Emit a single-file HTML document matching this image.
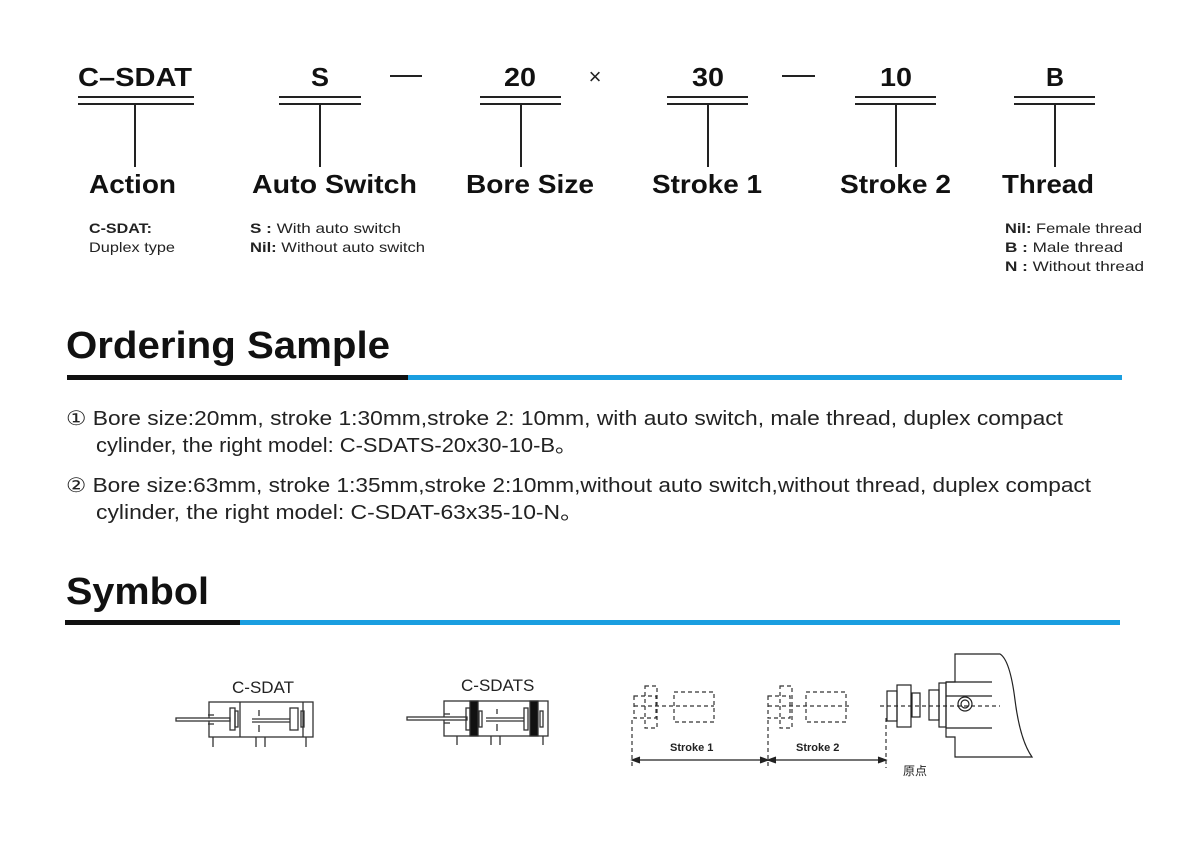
<!DOCTYPE html>
<html><head><meta charset="utf-8"><style>
html,body{margin:0;padding:0;background:#fff;}
svg{display:block;font-family:"Liberation Sans",Arial,sans-serif;}
</style></head><body>
<svg width="1200" height="850" viewBox="0 0 1200 850" xmlns="http://www.w3.org/2000/svg">
<g font-weight="bold" font-size="26" fill="#111" lengthAdjust="spacingAndGlyphs">
<text x="78" y="86" textLength="114" lengthAdjust="spacingAndGlyphs">C–SDAT</text>
<text x="311" y="86" textLength="18" lengthAdjust="spacingAndGlyphs">S</text>
<text x="504" y="86" textLength="32" lengthAdjust="spacingAndGlyphs">20</text>
<text x="692" y="86" textLength="32" lengthAdjust="spacingAndGlyphs">30</text>
<text x="880" y="86" textLength="32" lengthAdjust="spacingAndGlyphs">10</text>
<text x="1046" y="86" textLength="18" lengthAdjust="spacingAndGlyphs">B</text>
<text x="89" y="193" textLength="87" lengthAdjust="spacingAndGlyphs">Action</text>
<text x="252" y="193" textLength="165" lengthAdjust="spacingAndGlyphs">Auto Switch</text>
<text x="466" y="193" textLength="128" lengthAdjust="spacingAndGlyphs">Bore Size</text>
<text x="652" y="193" textLength="110" lengthAdjust="spacingAndGlyphs">Stroke 1</text>
<text x="840" y="193" textLength="111" lengthAdjust="spacingAndGlyphs">Stroke 2</text>
<text x="1002" y="193" textLength="92" lengthAdjust="spacingAndGlyphs">Thread</text>
</g>
<text x="595" y="84" font-size="22" text-anchor="middle" fill="#222">×</text>
<g stroke="#222" stroke-width="2" fill="none">
<line x1="390" y1="76" x2="422" y2="76"/><line x1="782" y1="76" x2="815" y2="76"/>
<line x1="78" y1="97" x2="194" y2="97"/><line x1="78" y1="104" x2="194" y2="104"/><line x1="135" y1="104" x2="135" y2="167"/>
<line x1="279" y1="97" x2="361" y2="97"/><line x1="279" y1="104" x2="361" y2="104"/><line x1="320" y1="104" x2="320" y2="167"/>
<line x1="480" y1="97" x2="561" y2="97"/><line x1="480" y1="104" x2="561" y2="104"/><line x1="521" y1="104" x2="521" y2="167"/>
<line x1="667" y1="97" x2="748" y2="97"/><line x1="667" y1="104" x2="748" y2="104"/><line x1="708" y1="104" x2="708" y2="167"/>
<line x1="855" y1="97" x2="936" y2="97"/><line x1="855" y1="104" x2="936" y2="104"/><line x1="896" y1="104" x2="896" y2="167"/>
<line x1="1014" y1="97" x2="1095" y2="97"/><line x1="1014" y1="104" x2="1095" y2="104"/><line x1="1055" y1="104" x2="1055" y2="167"/>
</g>
<g font-size="14" fill="#222">
<text x="89" y="233" font-weight="bold" textLength="63" lengthAdjust="spacingAndGlyphs">C-SDAT:</text>
<text x="89" y="252" textLength="86" lengthAdjust="spacingAndGlyphs">Duplex type</text>
<text x="250" y="233" textLength="151" lengthAdjust="spacingAndGlyphs"><tspan font-weight="bold">S  :</tspan> With auto switch</text>
<text x="250" y="252" textLength="175" lengthAdjust="spacingAndGlyphs"><tspan font-weight="bold">Nil:</tspan> Without auto switch</text>
<text x="1005" y="233" textLength="137" lengthAdjust="spacingAndGlyphs"><tspan font-weight="bold">Nil:</tspan> Female thread</text>
<text x="1005" y="252" textLength="118" lengthAdjust="spacingAndGlyphs"><tspan font-weight="bold">B  :</tspan> Male thread</text>
<text x="1005" y="271" textLength="139" lengthAdjust="spacingAndGlyphs"><tspan font-weight="bold">N  :</tspan> Without thread</text>
</g>
<text x="66" y="358" font-size="38" font-weight="bold" fill="#111" textLength="324" lengthAdjust="spacingAndGlyphs">Ordering Sample</text>
<rect x="67" y="375" width="341" height="5" fill="#111"/><rect x="408" y="375" width="714" height="5" fill="#1a9ee0"/>
<g font-size="20" fill="#222">
<text x="66" y="425" textLength="997" lengthAdjust="spacingAndGlyphs">①  Bore size:20mm, stroke 1:30mm,stroke 2: 10mm, with auto switch, male thread, duplex compact</text>
<text x="96" y="452" textLength="481" lengthAdjust="spacingAndGlyphs">cylinder, the right model: C-SDATS-20x30-10-B。</text>
<text x="66" y="492" textLength="1025" lengthAdjust="spacingAndGlyphs">② Bore size:63mm, stroke 1:35mm,stroke 2:10mm,without auto switch,without thread, duplex compact</text>
<text x="96" y="519" textLength="487" lengthAdjust="spacingAndGlyphs">cylinder,  the right model: C-SDAT-63x35-10-N。</text>
</g>
<text x="66" y="604" font-size="38" font-weight="bold" fill="#111" textLength="143" lengthAdjust="spacingAndGlyphs">Symbol</text>
<rect x="65" y="620" width="175" height="5" fill="#111"/><rect x="240" y="620" width="880" height="5" fill="#1a9ee0"/>
<g font-size="17" fill="#222"><text x="232" y="693">C-SDAT</text><text x="461" y="691">C-SDATS</text></g>
<g stroke="#333" stroke-width="1.3" fill="none">
<rect x="209" y="702" width="104" height="35"/><line x1="240" y1="702" x2="240" y2="737"/>
<rect x="176" y="718" width="54" height="3" fill="#fff"/>
<rect x="230" y="708" width="5" height="22"/><rect x="235" y="711" width="3" height="16"/>
<line x1="208" y1="715" x2="214" y2="715"/><line x1="208" y1="724" x2="214" y2="724"/>
<line x1="252" y1="719" x2="290" y2="719"/><line x1="252" y1="722" x2="290" y2="722"/>
<line x1="259" y1="710" x2="259" y2="716"/><line x1="259" y1="725" x2="259" y2="732"/>
<rect x="290" y="708" width="8" height="22"/><rect x="301" y="711" width="3" height="16"/><line x1="303" y1="702" x2="303" y2="737"/>
<line x1="213" y1="737" x2="213" y2="747"/><line x1="256" y1="737" x2="256" y2="747"/><line x1="265" y1="737" x2="265" y2="747"/><line x1="306" y1="737" x2="306" y2="747"/>
<rect x="444" y="701" width="104" height="35"/>
<rect x="407" y="717" width="60" height="3" fill="#fff"/>
<rect x="466" y="708" width="4" height="22"/><rect x="470" y="701" width="8" height="35" fill="#111"/><rect x="479" y="711" width="3" height="16"/>
<line x1="486" y1="718" x2="524" y2="718"/><line x1="486" y1="721" x2="524" y2="721"/><line x1="497" y1="709" x2="497" y2="714"/><line x1="497" y1="724" x2="497" y2="731"/>
<rect x="524" y="708" width="4" height="22"/><rect x="530" y="701" width="8" height="35" fill="#111"/><rect x="540" y="711" width="3" height="16"/>
<line x1="444" y1="714" x2="450" y2="714"/><line x1="444" y1="723" x2="450" y2="723"/>
<line x1="457" y1="736" x2="457" y2="745"/><line x1="491" y1="736" x2="491" y2="745"/><line x1="500" y1="736" x2="500" y2="745"/><line x1="543" y1="736" x2="543" y2="745"/>
</g>
<g stroke="#333" stroke-width="1.2" fill="none" stroke-dasharray="4 3">
<rect x="674" y="692" width="40" height="30"/><rect x="645" y="686" width="12" height="42"/><rect x="634" y="696" width="22" height="22"/>
<rect x="806" y="692" width="40" height="30"/><rect x="780" y="686" width="12" height="42"/><rect x="768" y="696" width="22" height="22"/>
<line x1="632" y1="720" x2="632" y2="768"/><line x1="768" y1="720" x2="768" y2="768"/><line x1="886" y1="718" x2="886" y2="768"/>
<line x1="634" y1="706" x2="714" y2="706"/><line x1="768" y1="706" x2="850" y2="706"/><line x1="880" y1="706" x2="1000" y2="706"/>
</g>
<g stroke="#222" stroke-width="1.2" fill="none">
<line x1="632" y1="760" x2="886" y2="760"/>
<path d="M640 757 L632 760 L640 763 M760 757 L768 760 L760 763 M776 757 L768 760 L776 763 M878 757 L886 760 L878 763" fill="#222"/>
<rect x="887" y="691" width="10" height="30"/><rect x="897" y="685" width="14" height="42"/><rect x="912" y="693" width="8" height="24"/>
<rect x="929" y="690" width="10" height="30"/><rect x="939" y="683" width="7" height="44"/>
<path d="M955 654 L1000 654 Q1010 660 1015 700 Q1020 740 1032 757 L955 757 L955 737 L946 737 L946 682 L955 682 Z"/>
<line x1="946" y1="682" x2="992" y2="682"/><line x1="946" y1="728" x2="992" y2="728"/><line x1="946" y1="696" x2="992" y2="696"/>
<circle cx="965" cy="704" r="7"/><circle cx="965" cy="704" r="4"/>
</g>
<g font-size="11" font-weight="bold" fill="#222"><text x="670" y="751">Stroke 1</text><text x="796" y="751">Stroke 2</text></g>
<text x="903" y="775" font-size="12" font-family="'Noto Sans CJK SC',sans-serif" fill="#222">原点</text>
</svg>
</body></html>
